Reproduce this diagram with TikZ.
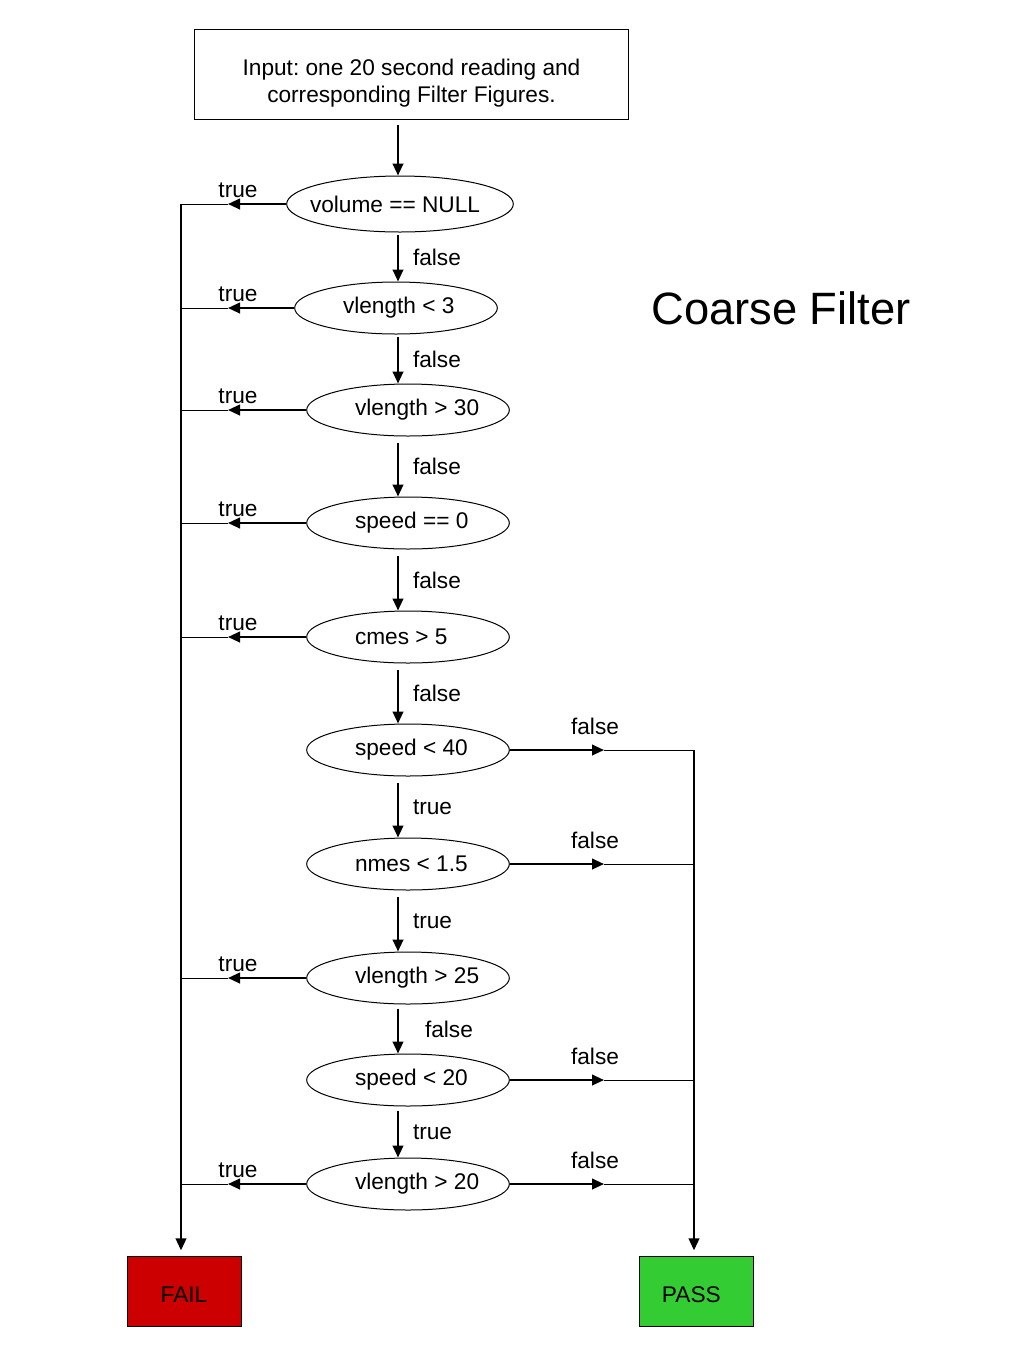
\documentclass[tikz,border=0pt]{standalone}
\usepackage{fontspec}
\setmainfont{Liberation Sans}
\usetikzlibrary{shapes.geometric,arrows.meta}
\frenchspacing

\definecolor{failred}{RGB}{204,0,0}
\definecolor{passgreen}{RGB}{51,204,51}

\newcommand{\condtext}[2][39.75pt]{\makebox[0pt][l]{\hspace*{-#1}#2}}

\tikzset{
    test/.style={draw, ellipse, line width=0.75pt, minimum width=152pt, minimum height=39pt, inner sep=0pt},
    flow/.style={line width=1.5pt, -{Triangle[length=9pt,width=8pt]}},
    bus/.style={line width=0.75pt},
    result/.style={draw, line width=0.75pt, minimum width=85.5pt, minimum height=52pt},
    lbl/.style={inner sep=0pt},
}

\begin{document}
\begin{tikzpicture}[x=0.75pt, y=-0.75pt, font=\fontsize{17}{20.25}\selectfont]
    \useasboundingbox (0,0) rectangle (1024,1365);

    \coordinate (spine) at (398,0);
    \coordinate (failbus) at (181,0);
    \coordinate (failtip) at (228,0);
    \coordinate (passbus) at (694,0);
    \coordinate (passtip) at (604,0);

    \node[draw, line width=0.75pt, minimum width=325pt, minimum height=68pt, align=center] (input) at (411.5,74.5)
        {\rule{0pt}{26pt}Input: one 20 second reading and\\corresponding Filter Figures.};

    \node[test, minimum width=170pt, minimum height=42pt] (volnull) at (400,204) {\condtext[67.5pt]{volume == NULL}};
    \node[test] (vlen3) at (396,308) {\condtext{vlength < 3}};
    \node[test] (vlen30) at (408,410) {\condtext{vlength > 30}};
    \node[test] (speed0) at (408,523) {\condtext{speed == 0}};
    \node[test] (cmes5) at (408,637) {\condtext{cmes > 5}};
    \node[test] (speed40) at (408,750) {\condtext{speed < 40}};
    \node[test] (nmes) at (408,864) {\condtext{nmes < 1.5}};
    \node[test] (vlen25) at (408,978) {\condtext{vlength > 25}};
    \node[test] (speed20) at (408,1080) {\condtext{speed < 20}};
    \node[test] (vlen20) at (408,1184) {\condtext{vlength > 20}};

    \node[result, fill=failred] (fail) at (184,1291.5) {\rule{0pt}{16pt}FAIL};
    \node[result, fill=passgreen] (pass) at (696,1291.5) {\rule{0pt}{16pt}PASS\rule{7pt}{0pt}};

    \node[font=\fontsize{34}{40}\selectfont] (title) at (781,308) {Coarse Filter};

    % main column
    \draw[flow, shorten <=3.5pt] (input.south -| spine) -- (volnull.north -| spine);
    \draw[flow, shorten <=2pt] (volnull.south -| spine) -- (vlen3.north -| spine) node[lbl, midway, right, xshift=10.5pt] {false};
    \draw[flow, shorten <=2pt] (vlen3.south -| spine) -- (vlen30.north -| spine) node[lbl, midway, right, xshift=10.5pt] {false};
    \draw[flow, shorten <=5pt] (vlen30.south -| spine) -- (speed0.north -| spine) node[lbl, midway, right, xshift=10.5pt] {false};
    \draw[flow, shorten <=5pt] (speed0.south -| spine) -- (cmes5.north -| spine) node[lbl, midway, right, xshift=10.5pt] {false};
    \draw[flow, shorten <=5pt] (cmes5.south -| spine) -- (speed40.north -| spine) node[lbl, midway, right, xshift=10.5pt] {false};
    \draw[flow, shorten <=5pt] (speed40.south -| spine) -- (nmes.north -| spine) node[lbl, midway, right, xshift=10.5pt] {true};
    \draw[flow, shorten <=5pt] (nmes.south -| spine) -- (vlen25.north -| spine) node[lbl, midway, right, xshift=10.5pt] {true};
    \draw[flow, shorten <=3pt] (vlen25.south -| spine) -- (speed20.north -| spine) node[lbl, midway, right, xshift=19.5pt] {false};
    \draw[flow, shorten <=3pt] (speed20.south -| spine) -- (vlen20.north -| spine) node[lbl, midway, right, xshift=10.5pt] {true};

    % true branches to FAIL
    \draw[flow] (volnull.west) -- (volnull -| failtip) node[lbl, above, xshift=7.5pt, yshift=4pt] {true};
    \draw[bus] (volnull -| failtip) -- (volnull -| failbus);
    \draw[flow] (vlen3.west) -- (vlen3 -| failtip) node[lbl, above, xshift=7.5pt, yshift=4pt] {true};
    \draw[bus] (vlen3 -| failtip) -- (vlen3 -| failbus);
    \draw[flow] (vlen30.west) -- (vlen30 -| failtip) node[lbl, above, xshift=7.5pt, yshift=4pt] {true};
    \draw[bus] (vlen30 -| failtip) -- (vlen30 -| failbus);
    \draw[flow] (speed0.west) -- (speed0 -| failtip) node[lbl, above, xshift=7.5pt, yshift=4pt] {true};
    \draw[bus] (speed0 -| failtip) -- (speed0 -| failbus);
    \draw[flow] (cmes5.west) -- (cmes5 -| failtip) node[lbl, above, xshift=7.5pt, yshift=4pt] {true};
    \draw[bus] (cmes5 -| failtip) -- (cmes5 -| failbus);
    \draw[flow] (vlen25.west) -- (vlen25 -| failtip) node[lbl, above, xshift=7.5pt, yshift=4pt] {true};
    \draw[bus] (vlen25 -| failtip) -- (vlen25 -| failbus);
    \draw[flow] (vlen20.west) -- (vlen20 -| failtip) node[lbl, above, xshift=7.5pt, yshift=4pt] {true};
    \draw[bus] (vlen20 -| failtip) -- (vlen20 -| failbus);
    \draw[flow, shorten >=4.5pt] (volnull -| failbus) -- (fail.north -| failbus);

    % false branches to PASS
    \draw[flow] (speed40.east) -- (speed40 -| passtip) node[lbl, above, xshift=-6.75pt, yshift=11pt] {false};
    \draw[bus] (speed40 -| passtip) -- (speed40 -| passbus);
    \draw[flow] (nmes.east) -- (nmes -| passtip) node[lbl, above, xshift=-6.75pt, yshift=11pt] {false};
    \draw[bus] (nmes -| passtip) -- (nmes -| passbus);
    \draw[flow] (speed20.east) -- (speed20 -| passtip) node[lbl, above, xshift=-6.75pt, yshift=11pt] {false};
    \draw[bus] (speed20 -| passtip) -- (speed20 -| passbus);
    \draw[flow] (vlen20.east) -- (vlen20 -| passtip) node[lbl, above, xshift=-6.75pt, yshift=11pt] {false};
    \draw[bus] (vlen20 -| passtip) -- (vlen20 -| passbus);
    \draw[flow, shorten >=4.5pt] (speed40 -| passbus) -- (pass.north -| passbus);
\end{tikzpicture}
\end{document}
